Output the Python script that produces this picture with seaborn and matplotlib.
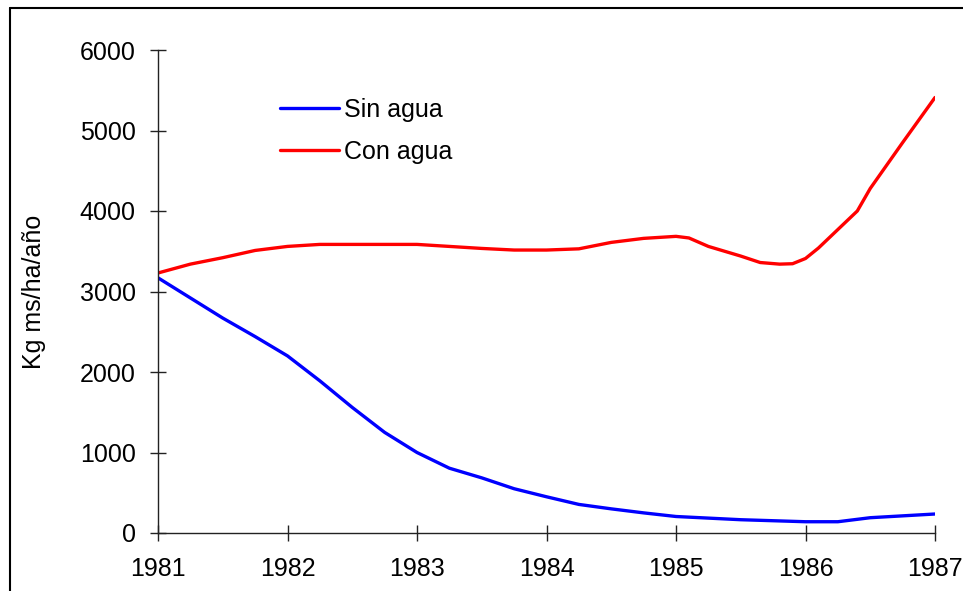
import numpy as np
import pandas as pd
import seaborn as sns
from matplotlib import pyplot as plt
from matplotlib.lines import Line2D

sin_years = [1981, 1981.25, 1981.5, 1981.75, 1982, 1982.25, 1982.5, 1982.75,
             1983, 1983.25, 1983.5, 1983.75, 1984, 1984.25, 1984.5, 1984.75,
             1985, 1985.5, 1986, 1986.25, 1986.5, 1987]
sin_agua = [3170, 2920, 2670, 2440, 2200, 1890, 1560, 1250,
            1000, 805, 685, 550, 450, 355, 300, 250,
            205, 165, 140, 140, 190, 236]

con_years = [1981, 1981.25, 1981.5, 1981.75, 1982, 1982.25, 1982.5, 1982.75,
             1983, 1983.25, 1983.5, 1983.75, 1984, 1984.25, 1984.5, 1984.75,
             1985, 1985.1, 1985.25, 1985.5, 1985.65, 1985.8, 1985.9, 1986,
             1986.1, 1986.25, 1986.4, 1986.5, 1986.75, 1987]
con_agua = [3230, 3340, 3420, 3510, 3560, 3585, 3585, 3585,
            3585, 3560, 3535, 3515, 3515, 3530, 3610, 3660,
            3685, 3665, 3560, 3440, 3360, 3340, 3345, 3410,
            3540, 3770, 4000, 4280, 4850, 5410]

year_ticks = [1981, 1982, 1983, 1984, 1985, 1986, 1987]
y_ticks = [0, 1000, 2000, 3000, 4000, 5000, 6000]

df = pd.concat([
    pd.DataFrame({"year": sin_years, "kg": sin_agua, "serie": "Sin agua"}),
    pd.DataFrame({"year": con_years, "kg": con_agua, "serie": "Con agua"}),
])

sns.set_style("ticks")
plt.rcParams["font.family"] = ["Liberation Sans", "DejaVu Sans"]
plt.rcParams["text.color"] = "black"
plt.rcParams["axes.labelcolor"] = "black"
plt.rcParams["xtick.color"] = "black"
plt.rcParams["ytick.color"] = "black"

fig = plt.figure(figsize=(9.63, 5.91), dpi=100)
ax = fig.add_axes([158/963, 1 - 533/591, (935-158)/963, (533-50)/591])

sns.lineplot(data=df, x="year", y="kg", hue="serie",
             palette={"Sin agua": "#0000ff", "Con agua": "#ff0000"},
             linewidth=2.4, ax=ax)

ax.set_xlim(1981, 1987)
ax.set_ylim(0, 6000)
ax.set_xticks(year_ticks)
ax.set_yticks(y_ticks)
ax.set_xticklabels([str(y) for y in year_ticks])
ax.tick_params(direction="inout", length=12, width=1, labelsize=18, color="#222222")
ax.tick_params(axis="y", pad=10)
ax.tick_params(axis="x", pad=11)
ax.set_xlabel("")
ax.set_ylabel("Kg ms/ha/año", fontsize=18, labelpad=24)
sns.despine(ax=ax)
for s in ["left", "bottom"]:
    ax.spines[s].set_linewidth(1)
    ax.spines[s].set_color("#222222")

ax.legend(loc="upper left", bbox_to_anchor=(280/963, 1 - 98/591),
          bbox_transform=fig.transFigure, frameon=False, fontsize=18,
          handlelength=2.35, handletextpad=0.2, labelspacing=0.7,
          borderpad=0, borderaxespad=0)

# outer frame (only left and top edges fall inside the image)
fig.add_artist(Line2D([10/963, 10/963], [0, 1 - 8/591], color="black", lw=1.5,
                      transform=fig.transFigure))
fig.add_artist(Line2D([10/963, 1], [1 - 8/591, 1 - 8/591], color="black", lw=1.5,
                      transform=fig.transFigure))

fig.savefig("out.png", dpi=100)
